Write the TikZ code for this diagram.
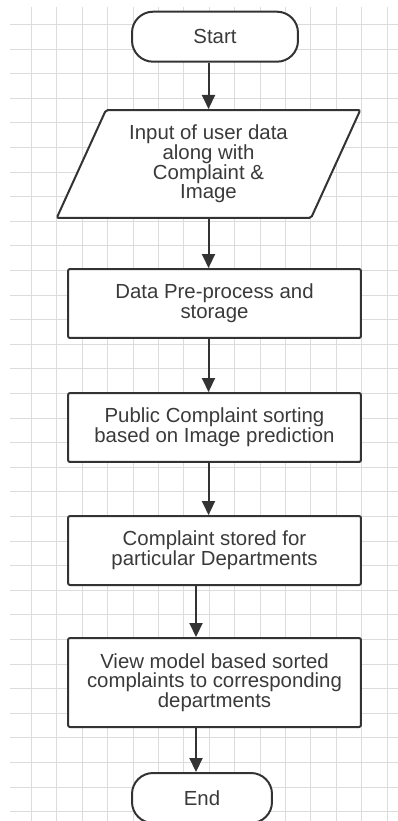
\documentclass[tikz,border=0pt]{standalone}
\usepackage{fontspec}
\setmainfont{Liberation Sans}
\usetikzlibrary{arrows.meta,shapes.geometric}
\definecolor{boxgray}{HTML}{333333}
\definecolor{textgray}{HTML}{3A3A3A}
\definecolor{gridgray}{HTML}{DCDCDC}

\begin{document}
\begin{tikzpicture}[x=0.02cm, y=-0.02cm,
    box/.style={draw=boxgray, line width=0.04cm, rounded corners=0.04cm, fill=white,
      text=textgray, align=center, font=\fontsize{11.6}{11.2}\selectfont, inner sep=0pt},
    terminal/.style={box, rounded corners=0.42cm, minimum height=1cm},
    process/.style={box, minimum width=5.86cm},
    io/.style={box, trapezium, trapezium left angle=64, trapezium right angle=116,
      trapezium stretches=true, minimum width=6.08cm, minimum height=2.16cm},
    flow/.style={draw=boxgray, line width=0.04cm, -{Triangle[width=0.26cm,length=0.28cm]}}]
          % background grid
          \useasboundingbox (0,0) rectangle (398,821);
          \clip (0,0) rectangle (398,821);
          \foreach \gx in {0,...,14} \draw[gridgray, line width=0.02cm] (31.5+25.4*\gx,7) -- (31.5+25.4*\gx,821);
          \foreach \gy in {0,...,32} \draw[gridgray, line width=0.02cm] (10,24.5+24.6*\gy) -- (398,24.5+24.6*\gy);
          % flow chart nodes
          \node[terminal, minimum width=3.32cm] (start) at (215, 36.7) {Start};
          \node[io] (input) at (208.5, 164) {Input of user data\\along with\\Complaint \&\\Image};
          \node[process, minimum height=1.38cm] (prep) at (214.5, 303.5) {Data Pre-process and\\storage};
          \node[process, minimum height=1.38cm] (sort) at (214.5, 427.5) {Public Complaint sorting\\based on Image prediction};
          \node[process, minimum height=1.38cm] (store) at (214.5, 550.5) {Complaint stored for\\particular Departments};
          \node[process, minimum height=1.78cm] (view) at (214.5, 682.5) {View model based sorted\\complaints to corresponding\\departments};
          \node[terminal, minimum width=2.8cm] (end) at (202, 798) {End};
          % connectors
          \draw[flow] (start.south -| input.north) -- (input.north);
          \draw[flow] (input.south) -- (input.south |- prep.north);
          \draw[flow] (prep.south -| input.south) -- (sort.north -| input.south);
          \draw[flow] (sort.south -| input.south) -- (store.north -| input.south);
          \draw[flow] ([xshift=-0.37cm]store.south) -- ([xshift=-0.37cm]view.north);
          \draw[flow] ([xshift=-0.37cm]view.south) -- ([xshift=-0.37cm]view.south |- end.north);
        \end{tikzpicture}
\end{document}
